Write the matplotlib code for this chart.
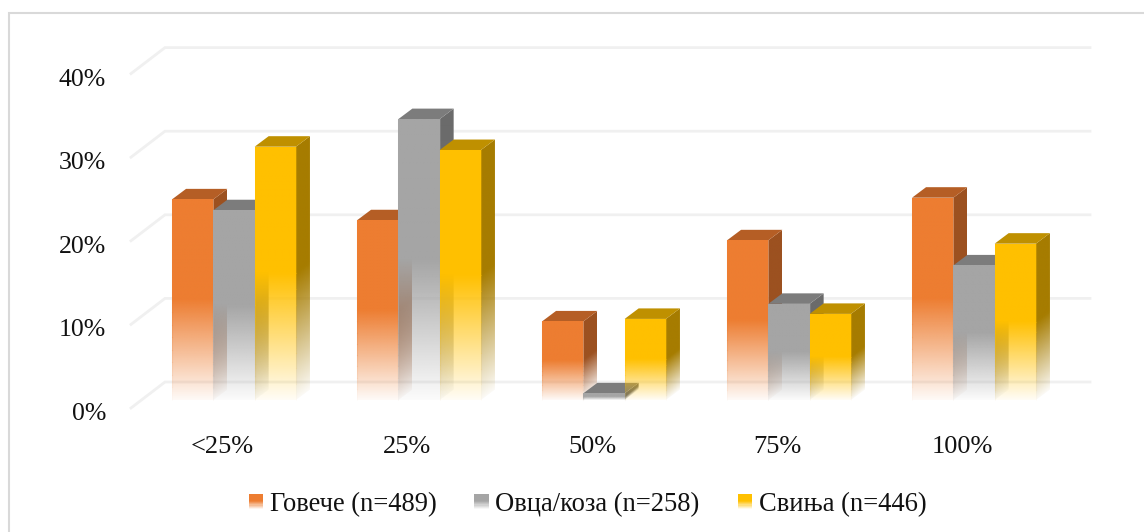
import numpy as np
import matplotlib
matplotlib.use("Agg")
import matplotlib.pyplot as plt
from matplotlib.colors import to_rgb
from matplotlib.legend_handler import HandlerBase
from matplotlib.lines import Line2D
from matplotlib.patches import Polygon, Rectangle

plt.rcParams["font.family"] = ["Liberation Serif", "DejaVu Serif"]

# ------------------------------------------
# data (percent of respondents)
# ------------------------------------------
categorias = ["<25%", "25%", "50%", "75%", "100%"]
series = ["Говече (n=489)", "Овца/коза (n=258)", "Свиња (n=446)"]
goveche = [24.0, 21.5, 9.4, 19.1, 24.2]
ovca = [22.7, 33.6, 0.8, 11.5, 16.1]
svinja = [30.3, 29.9, 9.7, 10.3, 18.7]
ticks_y = [0, 10, 20, 30, 40]

valores = [goveche, ovca, svinja]
color_frente = ["#ED7D31", "#A5A5A5", "#FFC000"]
color_arriba = ["#B55E25", "#7C7C7C", "#BF9000"]
color_lado = ["#9C5120", "#6B6B6B", "#A67C00"]

# ------------------------------------------
# scale: one category = 185 px, 10% = 83.6 px
# ------------------------------------------
W, H = 1144, 532
px_x = 185.0
px_y = 8.36
x0, y0 = 234.0, 400.0

ancho = 41.3 / px_x
prof_x = 14.0 / px_x
prof_y = 10.5 / px_y

pared_x = 34.0 / px_x
pared_y = 18.0 / px_y
piso_y = -8.0 / px_y
izq = (165.0 - x0) / px_x
der = (1090.0 - x0) / px_x

fig = plt.figure(figsize=(W / 100, H / 100), dpi=100)
ax = fig.add_axes([0, 0, 1, 1])
ax.set_xlim(-x0 / px_x, (W - x0) / px_x)
ax.set_ylim((y0 - H) / px_y, y0 / px_y)
ax.axis("off")

# outer frame, only the left and top edges
fig.add_artist(Line2D([8.5 / W, 8.5 / W, 1], [0, 1 - 12.5 / H, 1 - 12.5 / H],
                      color="#D9D9D9", lw=1.5, solid_joinstyle="miter"))

# back wall and side wall lines
for t in ticks_y:
    ax.plot([izq - pared_x, izq, der], [t + piso_y, t + pared_y, t + pared_y],
            color="#F0F0F0", lw=2, zorder=1, solid_joinstyle="miter")
    ax.text((106 - x0) / px_x, t + piso_y - 6 / px_y, f"{t}%", ha="right", va="center",
            fontsize=18.5, color="#111111")


def alfa_vertical(alturas, v):
    # solid over the top half of the bar, fading out towards the floor
    a = np.clip(alturas / (v / 2), 0, 1)
    return 0.04 + 0.96 * a


def cara(color, xs, ys, alfa_fn, z):
    # gradient face, drawn as an image clipped to its polygon
    xmin, xmax = min(xs), max(xs)
    ymin, ymax = min(ys), max(ys)
    nx, ny = 30, 300
    gx, gy = np.meshgrid(np.linspace(xmin, xmax, nx), np.linspace(ymin, ymax, ny))
    rgba = np.zeros((ny, nx, 4))
    rgba[..., :3] = to_rgb(color)
    rgba[..., 3] = alfa_fn(gx, gy)
    im = ax.imshow(rgba, extent=(xmin, xmax, ymin, ymax), origin="lower",
                   aspect="auto", zorder=z, interpolation="bilinear")
    im.set_clip_path(Polygon(np.column_stack([xs, ys]), transform=ax.transData))


def borde(color, x1, x2, v, z):
    # faint outline of the front face, it fades with the bar and has no base line
    ax.plot([x1, x1, x2, x2], [v / 2, v, v, v / 2], color=color, lw=0.8, alpha=0.3, zorder=z)
    n = 8
    for k in range(n):
        y1 = (v / 2) * k / n
        y2 = (v / 2) * (k + 1) / n
        alfa = 0.3 * (k + 0.5) / n
        ax.plot([x1, x1], [y1, y2], color=color, lw=0.8, alpha=alfa, zorder=z)
        ax.plot([x2, x2], [y1, y2], color=color, lw=0.8, alpha=alfa, zorder=z)


z = 3
for i in range(len(categorias)):
    for s in range(3):
        v = valores[s][i]
        x1 = i + (s - 1.5) * ancho
        x2 = x1 + ancho

        # side face, the fade follows the depth of the bar
        cara(color_lado[s],
             [x2, x2 + prof_x, x2 + prof_x, x2],
             [0, prof_y, v + prof_y, v],
             lambda gx, gy, x2=x2, v=v: alfa_vertical(gy - (gx - x2) * prof_y / prof_x, v),
             z)
        # top face
        ax.add_patch(Polygon([(x1, v), (x2, v), (x2 + prof_x, v + prof_y), (x1 + prof_x, v + prof_y)],
                             closed=True, facecolor=color_arriba[s], edgecolor="none", zorder=z + 0.1))
        # front face
        cara(color_frente[s], [x1, x2, x2, x1], [0, 0, v, v],
             lambda gx, gy, v=v: alfa_vertical(gy, v), z + 0.2)
        borde(color_frente[s], x1, x2, v, z + 0.3)
        z += 1

ax.set_xlim(-x0 / px_x, (W - x0) / px_x)
ax.set_ylim((y0 - H) / px_y, y0 / px_y)

for i, c in enumerate(categorias):
    ax.text(i - 0.065, (y0 - 453) / px_y, c, ha="center", va="baseline", fontsize=19, color="#111111")


class HandlerDegradado(HandlerBase):
    # legend swatch with the lower part fading to white
    def create_artists(self, legend, orig, xd, yd, w, h, fontsize, trans):
        artistas = []
        n = 13
        for k in range(n):
            alfa = min(1.0, 0.08 + 0.92 * k / (n / 2))
            artistas.append(Rectangle((-xd, -yd + h * k / n), w, h / n + 0.1,
                                      facecolor=orig.get_facecolor(), alpha=alfa,
                                      edgecolor="none", transform=trans))
        return artistas


handles = [Rectangle((0, 0), 1, 1, facecolor=c) for c in color_frente]
ax.legend(handles, series, handler_map={Rectangle: HandlerDegradado()}, ncol=3,
          loc="center", bbox_to_anchor=(587.5 / W, 1 - 504.5 / H), frameon=False,
          fontsize=19.1, handlelength=0.53, handleheight=0.5, handletextpad=0.26,
          columnspacing=1.44, labelcolor="#111111")

fig.savefig("out.png", dpi=100)
